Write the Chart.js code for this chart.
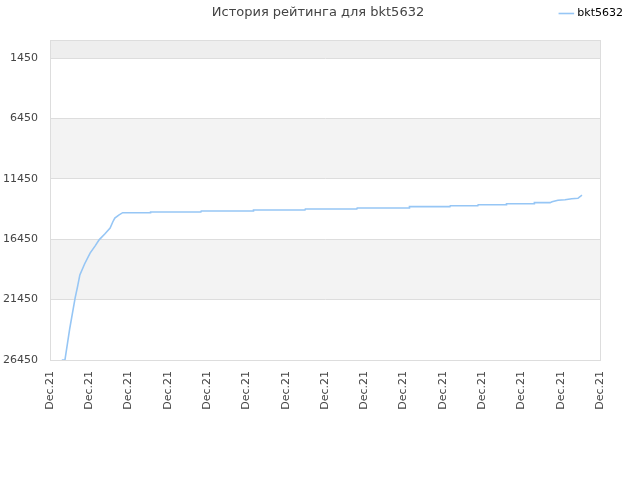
<!DOCTYPE html>
<html>
<head>
<meta charset="utf-8">
<script src="https://cdn.jsdelivr.net/npm/chart.js@4"></script>
<style>
  html, body { margin: 0; padding: 0; background: #fff; }
  #wrap { width: 640px; height: 480px; }
</style>
</head>
<body>
<div id="wrap"><canvas id="chart" width="640" height="480"></canvas></div>
<script>
// Chart data (x is position along the date axis, 0..14)
const chartTitle = 'История рейтинга для bkt5632';
const playerName = 'bkt5632';
const xLabels = ['Dec.21', 'Dec.21', 'Dec.21', 'Dec.21', 'Dec.21', 'Dec.21', 'Dec.21', 'Dec.21',
                 'Dec.21', 'Dec.21', 'Dec.21', 'Dec.21', 'Dec.21', 'Dec.21', 'Dec.21'];
const yTicks = [1450, 6450, 11450, 16450, 21450, 26450];
const xPos = [0.30, 0.38, 0.50, 0.64, 0.70, 0.76, 0.88, 1.02, 1.15, 1.25, 1.40, 1.53, 1.60, 1.65, 1.75, 1.85,
              2.55, 2.56, 3.84, 3.85, 5.17, 5.18, 6.49, 6.50, 7.81, 7.82, 9.14, 9.15, 10.18, 10.19,
              10.89, 10.90, 11.61, 11.62, 12.32, 12.33, 12.73, 12.78, 12.93, 13.11, 13.28, 13.44, 13.49, 13.54];
const ratings = [26450, 26450, 23900, 21300, 20400, 19400, 18500, 17600, 17000, 16500, 16000, 15520, 15000, 14700, 14450, 14250,
                 14250, 14190, 14190, 14110, 14110, 14030, 14030, 13945, 13945, 13860, 13860, 13750, 13750, 13670,
                 13670, 13590, 13590, 13505, 13505, 13420, 13420, 13340, 13225, 13175, 13090, 13060, 12930, 12790];

const lineColour = 'rgb(150, 198, 245)';

// alternating background bands + outer frame
const bandsPlugin = {
    id: 'bands',
    beforeDraw(chart) {
        const { ctx, chartArea, scales } = chart;
        const y = scales.y;
        const edges = [y.min].concat(yTicks);
        const fills = ['#eeeeee', '#ffffff', '#f3f3f3', '#ffffff', '#f3f3f3', '#ffffff'];
        ctx.save();
        for (let i = 0; i < edges.length - 1; i++) {
            const top = y.getPixelForValue(edges[i]);
            const bottom = y.getPixelForValue(edges[i + 1]);
            ctx.fillStyle = fills[i];
            ctx.fillRect(chartArea.left, top, chartArea.right - chartArea.left, bottom - top);
        }
        ctx.restore();
    },
    afterDraw(chart) {
        const { ctx, chartArea } = chart;
        ctx.save();
        ctx.strokeStyle = '#dddddd';
        ctx.lineWidth = 1;
        ctx.strokeRect(chartArea.left + 0.5, chartArea.top + 0.5,
                       chartArea.right - chartArea.left, chartArea.bottom - chartArea.top);
        // title on the same row as the legend
        ctx.fillStyle = '#444444';
        ctx.font = '13px "DejaVu Sans"';
        ctx.textAlign = 'center';
        ctx.textBaseline = 'middle';
        ctx.fillText(chartTitle, 318, 13);
        ctx.restore();
    }
};

// empty axes used only to reserve space above and right of the plot
const spacer = size => ({
    display: true,
    afterFit: scale => {
        if (scale.isHorizontal()) scale.height = size; else scale.width = size;
    },
    grid: { display: false },
    border: { display: false },
    ticks: { display: false }
});

const ctx = document.getElementById('chart').getContext('2d');
const chart = new Chart(ctx, {
    type: 'line',
    data: {
        datasets: [{
            label: playerName,
            data: xPos.map((x, i) => ({ x: x, y: ratings[i] })),
            borderColor: lineColour,
            backgroundColor: lineColour,
            borderWidth: 1.6,
            pointRadius: 0,
            fill: false,
            tension: 0
        }]
    },
    options: {
        responsive: false,
        animation: false,
        devicePixelRatio: 1,
        layout: { padding: { top: 0, right: 9, bottom: 0, left: 0 } },
        plugins: {
            legend: {
                position: 'top',
                align: 'end',
                labels: {
                    usePointStyle: true,
                    pointStyle: 'line',
                    boxWidth: 12,
                    padding: 8,
                    color: '#000',
                    font: { family: 'DejaVu Sans', size: 11 }
                }
            },
            title: { display: false },
            tooltip: { enabled: false }
        },
        scales: {
            x: {
                type: 'linear',
                min: 0,
                max: 14,
                afterBuildTicks: scale => {
                    scale.ticks = xLabels.map((_, i) => ({ value: i }));
                },
                afterFit: scale => { scale.height = 120; },
                grid: { display: false },
                border: { color: '#dddddd' },
                ticks: {
                    autoSkip: false,
                    maxRotation: 90,
                    minRotation: 90,
                    color: '#444',
                    font: { family: 'DejaVu Sans', size: 11 },
                    callback: (v, i) => xLabels[i]
                }
            },
            xTop: Object.assign({ type: 'linear', position: 'top', min: 0, max: 1 }, spacer(11)),
            y: {
                reverse: true,
                min: -50,
                max: 26450,
                afterBuildTicks: scale => {
                    scale.ticks = yTicks.map(v => ({ value: v }));
                },
                afterFit: scale => { scale.width = 50; },
                grid: { color: '#dddddd', drawTicks: false },
                border: { color: '#dddddd' },
                ticks: {
                    padding: 12,
                    color: '#444',
                    font: { family: 'DejaVu Sans', size: 11 },
                    callback: v => String(v)
                }
            },
            yRight: Object.assign({ type: 'linear', position: 'right', min: 0, max: 1 }, spacer(31))
        }
    },
    plugins: [bandsPlugin]
});
</script>
</body>
</html>
